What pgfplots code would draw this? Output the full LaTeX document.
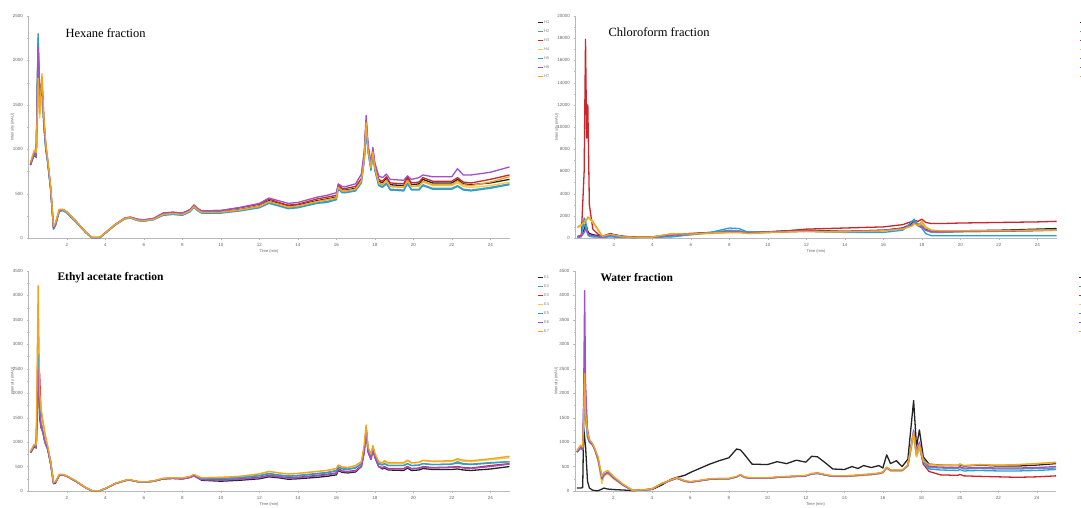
\documentclass[border=0pt]{standalone}
\usepackage{fontspec}
\setmainfont{Liberation Serif}
\newfontfamily\sansf{Liberation Sans}
\usepackage{pgfplots}
\usepackage{pgfplotstable}
\pgfplotsset{compat=1.18}

\definecolor{c1}{RGB}{35,35,35}
\definecolor{c2}{RGB}{95,150,165}
\definecolor{c3}{RGB}{200,40,45}
\definecolor{c4}{RGB}{240,205,70}
\definecolor{c5}{RGB}{40,160,215}
\definecolor{c6}{RGB}{160,80,200}
\definecolor{c7}{RGB}{240,165,35}

% x, then the seven runs of one fraction
\pgfplotstableread{
x a b c d e f g
0.10 820 830 825 840 830 835 850
0.30 940 960 950 980 950 960 990
0.40 910 930 920 950 920 930 960
0.50 2200 2300 2000 1700 2250 2150 1800
0.58 1500 1600 1550 1350 1600 1700 1400
0.70 1650 1750 1800 1600 1700 1750 1850
0.80 1250 1300 1350 1300 1300 1300 1350
0.90 1000 1020 1050 1050 1000 1020 1060
1.00 850 860 870 880 850 860 880
1.15 550 560 570 580 550 560 580
1.30 110 100 120 130 100 110 130
1.40 150 140 160 170 140 150 170
1.60 310 300 320 320 300 310 320
1.80 320 310 320 320 310 320 320
2.00 290 280 290 290 280 290 290
2.50 180 170 180 180 170 180 180
3.00 60 55 60 60 55 60 60
3.30 5 0 5 5 0 5 5
3.70 5 0 5 5 0 5 5
4.00 60 55 60 60 55 60 60
4.50 150 145 150 150 145 150 150
5.00 220 215 225 220 215 225 220
5.30 230 225 235 230 225 235 230
5.70 200 195 210 200 195 210 200
6.00 195 190 205 195 190 205 195
6.50 215 210 220 210 205 220 210
7.00 270 260 280 265 255 280 265
7.50 280 270 290 275 265 290 275
8.00 270 260 280 265 255 280 265
8.40 310 300 320 305 295 320 305
8.60 360 350 370 355 345 370 355
8.80 320 310 330 315 305 330 315
9.00 295 285 305 290 280 305 290
10.00 295 285 310 290 280 310 290
11.00 320 310 340 315 305 345 315
12.00 360 350 380 355 340 390 355
12.50 420 400 440 410 390 450 410
13.00 390 370 400 380 360 420 380
13.50 360 340 370 350 330 390 350
14.00 370 350 380 360 340 400 360
15.00 420 400 440 410 390 460 410
15.50 440 410 460 430 400 480 430
16.00 460 440 480 450 430 510 450
16.10 580 560 600 570 550 610 570
16.30 540 520 560 530 510 580 530
16.50 540 520 560 530 510 580 530
17.00 560 540 580 550 530 610 550
17.30 650 630 670 640 620 720 640
17.45 900 880 920 890 870 980 890
17.55 1300 1250 1320 1280 1200 1380 1300
17.65 1000 980 1020 990 960 1050 990
17.80 800 780 820 790 760 850 790
17.90 980 960 1000 970 940 1020 970
18.00 800 780 820 790 760 850 790
18.20 640 600 660 620 590 700 620
18.40 620 580 640 600 570 680 600
18.60 670 620 690 650 610 720 650
18.80 600 550 620 580 540 660 580
19.50 590 540 610 570 530 650 570
19.70 670 620 690 650 610 700 650
19.90 600 550 620 580 540 660 580
20.30 610 550 630 580 540 680 590
20.50 660 600 680 630 590 710 640
21.00 620 560 640 590 550 690 600
22.00 620 560 640 590 550 690 600
22.30 660 590 680 620 580 780 640
22.60 610 550 630 580 540 710 600
23.00 600 540 620 570 530 710 590
24.00 620 570 660 590 560 740 630
25.00 660 610 710 630 600 800 690
}\hex

\pgfplotstableread{
x a b c d e f g
0.10 150 100 100 900 50 100 1000
0.30 200 150 200 1100 100 150 1200
0.45 800 1500 6000 1300 1800 500 1400
0.52 1200 900 17900 1500 1600 800 1600
0.58 1000 800 9000 1600 1000 600 1700
0.64 600 300 12000 1800 300 400 1900
0.72 400 200 3000 1700 150 300 1800
0.90 300 150 800 1400 100 200 1500
1.20 200 100 300 600 80 150 700
1.40 150 80 150 100 50 100 150
1.80 400 200 300 300 100 250 350
2.00 300 150 250 250 80 200 250
2.50 150 100 150 100 50 100 100
3.00 80 50 80 50 30 50 50
4.00 100 80 100 80 60 80 80
5.00 300 150 350 350 100 250 400
6.00 400 300 400 300 300 350 350
7.00 500 500 450 400 500 450 450
8.00 550 700 500 500 900 550 500
8.50 550 650 500 500 850 550 500
9.00 500 550 450 400 500 450 400
10.00 550 550 550 500 500 500 500
11.00 650 600 650 550 550 600 550
12.00 700 650 800 600 600 650 600
13.00 650 600 850 550 550 600 550
14.00 600 550 900 550 500 600 550
15.00 650 600 950 600 500 650 600
16.00 700 650 1000 650 500 700 650
17.00 900 850 1200 800 700 850 800
17.50 1300 1200 1500 1100 1500 1150 1100
17.60 1600 1500 1600 1400 1700 1400 1300
17.80 1200 1300 1500 1200 1100 1100 1100
18.00 1300 1100 1700 1300 900 1000 1500
18.20 800 700 1400 900 400 700 1000
18.50 600 500 1300 700 200 600 700
19.00 600 500 1300 650 200 550 650
20.00 650 550 1350 650 200 600 650
22.00 700 600 1400 650 200 600 650
24.00 800 700 1450 700 200 650 700
25.00 850 750 1500 700 200 700 700
}\chl

\pgfplotstableread{
x a b c d e f g
0.10 780 790 800 800 790 790 810
0.30 900 920 940 950 920 920 960
0.40 880 900 920 930 900 900 940
0.50 2600 3000 2000 3700 2800 2500 4200
0.58 1500 1800 2400 1900 1700 1600 2000
0.65 1300 1400 1600 1500 1350 1300 1700
0.75 1200 1250 1300 1350 1200 1200 1450
0.85 1000 1050 1100 1100 1000 1000 1200
1.00 850 870 880 900 860 850 920
1.15 550 600 570 600 620 560 600
1.30 150 170 160 170 180 160 180
1.40 160 180 170 180 190 170 190
1.60 320 330 320 330 330 320 340
1.80 330 330 330 330 330 330 340
2.00 300 300 300 300 300 300 310
2.50 190 190 190 190 190 190 200
3.00 60 60 60 60 60 60 65
3.30 5 5 5 5 5 5 5
3.70 5 5 5 5 5 5 5
4.00 50 50 50 50 50 50 55
4.50 150 150 150 150 150 150 155
5.00 210 210 210 210 210 210 215
5.20 230 230 230 230 230 230 235
5.70 190 190 190 190 190 190 195
6.00 180 180 180 180 180 180 185
6.50 200 200 200 205 200 200 205
7.00 250 255 250 260 250 250 260
7.50 260 265 260 270 260 255 270
8.00 250 260 250 265 255 245 265
8.40 280 290 280 300 290 275 300
8.60 320 330 320 340 330 310 340
8.80 270 290 270 300 290 260 300
9.00 220 260 240 270 250 230 270
10.00 200 260 230 280 250 220 280
11.00 220 280 250 300 270 240 300
12.00 250 320 280 350 310 270 350
12.50 290 360 320 400 350 310 400
13.00 270 330 300 370 320 290 370
13.50 240 310 270 350 300 260 350
14.00 250 320 280 360 310 270 360
15.00 280 360 320 400 350 310 400
15.50 300 380 340 420 370 330 420
16.00 330 420 370 460 410 360 460
16.10 420 500 460 530 490 440 530
16.30 380 460 410 490 450 400 490
16.60 370 450 400 480 440 390 480
17.00 390 480 420 520 470 410 520
17.30 500 560 510 600 550 500 600
17.45 800 850 800 900 850 800 950
17.55 1250 1300 1250 1300 1300 1250 1350
17.65 800 850 800 850 850 800 900
17.80 650 700 650 700 700 650 750
17.90 850 900 850 900 880 850 930
18.00 700 750 700 750 750 700 780
18.20 500 550 500 580 560 500 600
18.40 450 530 480 560 540 470 580
18.50 470 560 500 600 560 490 620
18.70 430 520 460 560 520 450 580
19.50 420 520 460 560 520 450 580
19.70 470 560 500 620 560 490 630
19.90 420 520 460 570 520 450 580
20.30 430 530 470 580 530 460 590
20.50 460 560 500 620 560 490 630
21.00 440 540 480 600 540 470 610
22.00 440 550 490 600 550 480 620
22.30 450 600 500 640 570 490 660
22.60 430 560 480 610 550 470 630
23.00 420 550 470 600 540 460 620
24.00 450 580 520 640 570 500 660
25.00 500 600 560 680 600 550 710
}\eth

\pgfplotstableread{
x a b c d e f g
0.10 60 800 800 820 790 800 830
0.30 60 900 880 920 880 900 940
0.40 70 850 840 880 840 850 900
0.45 1300 1300 1600 1400 1500 2000 1500
0.50 1100 2000 2800 2300 2200 4100 2400
0.55 900 1500 1800 1500 1500 2200 1600
0.65 200 1100 1250 1100 1100 1200 1200
0.75 60 1000 1050 1000 1000 1000 1050
0.90 20 950 950 950 950 950 980
1.00 10 880 880 880 880 880 900
1.20 5 650 650 600 650 650 700
1.40 40 200 250 150 250 250 300
1.50 60 300 330 300 330 330 380
1.70 40 380 380 350 380 380 420
2.00 30 290 270 250 270 270 300
2.50 20 130 120 110 120 120 140
3.00 10 10 10 10 10 10 15
3.50 20 20 20 20 20 20 25
4.00 30 40 40 40 40 40 45
4.50 120 150 150 150 150 150 155
5.00 240 220 230 220 220 220 230
5.30 280 270 270 260 260 260 270
5.70 320 210 200 200 200 200 210
6.00 380 190 180 180 180 180 190
7.00 550 240 240 240 240 240 250
7.50 620 250 250 250 250 250 260
8.00 680 250 250 250 250 250 260
8.40 860 290 290 290 290 290 300
8.60 840 330 330 330 330 330 340
8.80 750 280 280 280 280 280 290
9.20 550 260 260 260 260 260 270
10.00 540 260 260 260 260 260 270
10.50 600 280 280 280 280 280 290
11.00 560 290 290 290 290 290 300
11.50 630 300 300 300 300 300 310
12.00 590 310 310 310 310 310 320
12.30 710 350 350 350 350 350 360
12.60 700 360 370 360 360 360 370
13.00 580 330 330 330 330 330 340
13.40 450 300 300 300 300 300 310
14.00 440 300 300 290 300 300 310
14.40 500 310 310 300 310 310 320
14.70 460 320 320 310 320 320 330
15.00 520 330 330 320 330 330 340
15.40 480 340 340 330 340 340 350
15.80 520 360 360 350 360 360 370
16.00 470 380 380 370 380 380 390
16.20 740 480 480 460 480 480 490
16.40 560 420 420 410 420 420 430
16.70 620 420 420 410 420 420 430
17.00 500 420 420 410 420 420 430
17.30 650 520 520 510 520 520 530
17.60 1850 1200 1150 1100 1200 1250 1200
17.75 900 750 700 700 750 800 750
17.90 1250 950 900 900 950 1000 950
18.10 700 600 550 600 600 650 620
18.40 550 480 400 520 450 500 540
19.00 530 470 330 520 430 490 530
19.90 520 460 320 520 420 480 530
20.00 540 480 340 560 440 500 550
20.20 510 450 310 520 410 470 520
21.00 530 460 300 540 420 480 540
22.00 510 450 290 530 410 470 530
23.00 510 450 280 540 410 470 540
24.00 530 460 290 560 420 480 560
25.00 560 470 310 580 440 500 590
}\wat

\pgfplotsset{chrom/.style={
  scale only axis, width=481pt, height=222pt,
  xmin=0, xmax=25, ymin=0,
  axis lines=left, axis line style={gray!55, -},
  xtick={2,4,...,24}, minor x tick num=1, minor y tick num=1,
  tick align=outside, major tick length=2pt, minor tick length=1.2pt,
  tick style={gray!55},
  scaled ticks=false,
  /pgf/number format/assume math mode=true,
  /pgf/number format/1000 sep={},
  ticklabel style={font=\sansf\fontsize{4.5}{5}\selectfont, text=gray!80!black},
  xlabel={Time (min)}, ylabel={Intensity (mAU)},
  label style={font=\sansf\fontsize{4}{5}\selectfont, text=gray!80!black},
  xlabel style={at={(axis description cs:0.5,-0.06)}, anchor=center},
  legend style={at={(1.052,1)}, anchor=north west, draw=none, fill=none,
    font=\sansf\fontsize{4}{5}\selectfont, text=gray, row sep=0pt,
    nodes={inner sep=0.6pt, minimum height=9pt}},
  legend cell align=left,
  legend image code/.code={\draw[#1, line width=1.3pt] (0pt,0pt) -- (4.5pt,0pt);},
  every axis plot/.append style={line width=1.3pt, line join=round, mark=none},
  clip=false,
}}

\newcommand{\seven}[1]{%
  \addplot[c1] table[x=x,y=a]{#1};
  \addplot[c2] table[x=x,y=b]{#1};
  \addplot[c3] table[x=x,y=c]{#1};
  \addplot[c4] table[x=x,y=d]{#1};
  \addplot[c5] table[x=x,y=e]{#1};
  \addplot[c6] table[x=x,y=f]{#1};
  \addplot[c7] table[x=x,y=g]{#1};
}

\begin{document}
\begin{tikzpicture}
\useasboundingbox (0pt,0pt) rectangle (1081pt,507pt);

% Hexane
\begin{axis}[chrom, at={(28.5pt,269pt)}, anchor=south west,
  ymax=2500, ytick={0,500,...,2500},
  ylabel style={at={(axis description cs:-0.033,0.5)}, anchor=center}]
\seven{\hex}
\legend{H1,H2,H3,H4,H5,H6,H7}
\end{axis}

% Chloroform (its legend sits at the right edge, only the swatches show)
\begin{axis}[chrom, at={(575.5pt,269pt)}, anchor=south west,
  ymax=20000, ytick={0,2000,...,20000},
  legend style={at={(1.04,1)}},
  ylabel style={at={(axis description cs:-0.039,0.5)}, anchor=center}]
\seven{\chl}
\legend{\mbox{},\mbox{},\mbox{},\mbox{},\mbox{},\mbox{},\mbox{}}
\end{axis}

% Ethyl acetate
\begin{axis}[chrom, at={(28.5pt,16pt)}, anchor=south west, height=220pt,
  ymax=4500, ytick={0,500,...,4500},
  ylabel style={at={(axis description cs:-0.033,0.5)}, anchor=center}]
\seven{\eth}
\legend{E1,E2,E3,E4,E5,E6,E7}
\end{axis}

% Water
\begin{axis}[chrom, at={(575pt,16pt)}, anchor=south west, height=220pt,
  ymax=4500, ytick={0,500,...,4500},
  legend style={at={(1.04,1)}},
  ylabel style={at={(axis description cs:-0.039,0.5)}, anchor=center}]
\seven{\wat}
\legend{\mbox{},\mbox{},\mbox{},\mbox{},\mbox{},\mbox{},\mbox{}}
\end{axis}

\node[anchor=west, font=\fontsize{12.5}{14}\selectfont] at (62pt,474pt) {Hexane fraction};
\node[anchor=west, font=\fontsize{12.5}{14}\selectfont] at (605pt,475pt) {Chloroform fraction};
\node[anchor=west, font=\bfseries\fontsize{11.5}{13}\selectfont] at (54pt,229pt) {Ethyl acetate fraction};
\node[anchor=west, font=\bfseries\fontsize{11.5}{13}\selectfont] at (597pt,229pt) {Water fraction};
\end{tikzpicture}
\end{document}
